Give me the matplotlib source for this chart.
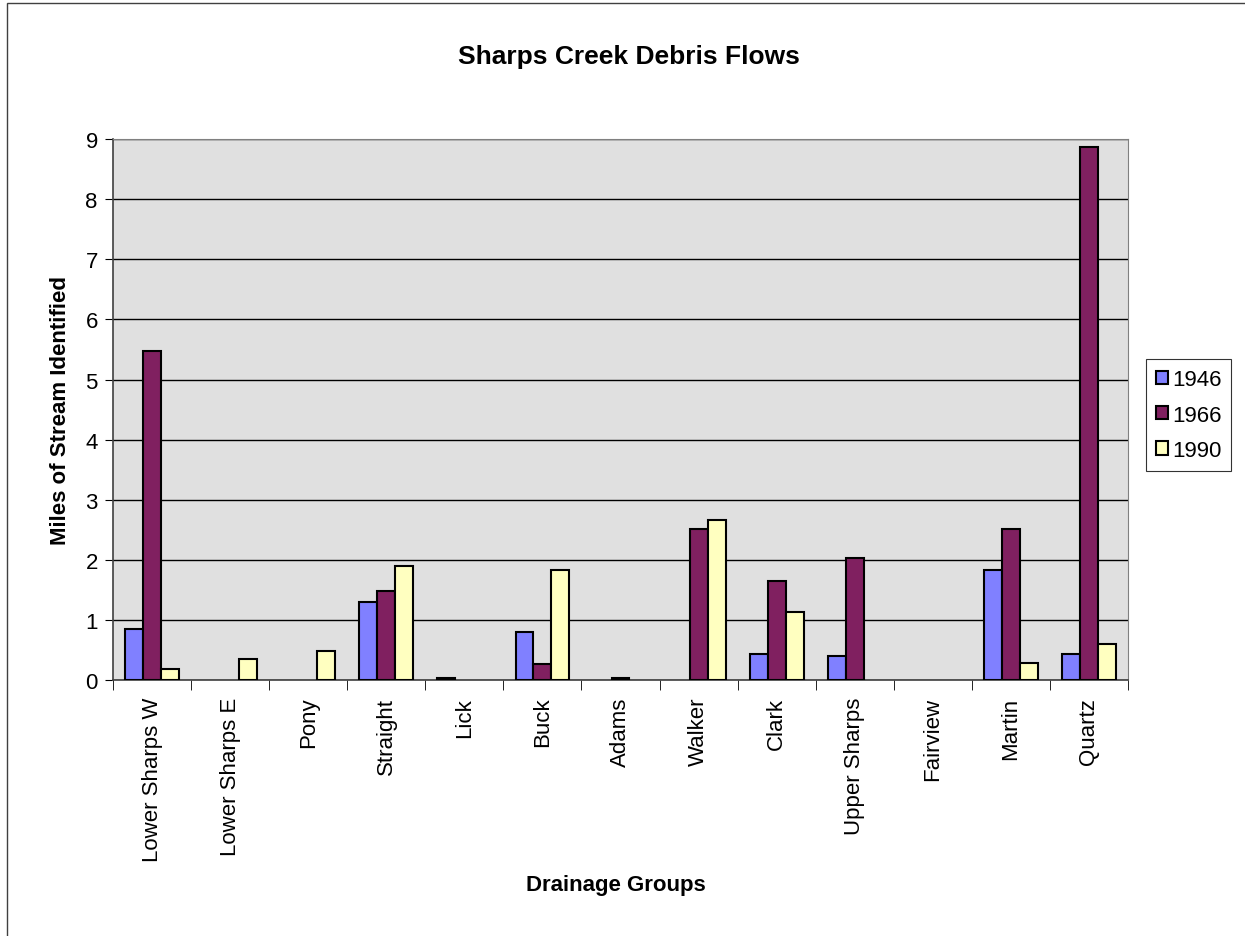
import matplotlib

matplotlib.use("Agg")
import matplotlib.pyplot as plt
import numpy as np
from matplotlib.patches import Rectangle

plt.rcParams["font.family"] = ["Liberation Sans", "DejaVu Sans"]

groups = ["Lower Sharps W", "Lower Sharps E", "Pony", "Straight", "Lick", "Buck",
          "Adams", "Walker", "Clark", "Upper Sharps", "Fairview", "Martin", "Quartz"]
v1946 = [0.85, 0, 0, 1.30, 0.03, 0.80, 0, 0, 0.44, 0.41, 0, 1.84, 0.44]
v1966 = [5.47, 0, 0, 1.48, 0, 0.27, 0.03, 2.51, 1.65, 2.04, 0, 2.51, 8.87]
v1990 = [0.18, 0.35, 0.48, 1.90, 0, 1.83, 0, 2.66, 1.14, 0, 0, 0.28, 0.61]
years = ["1946", "1966", "1990"]
colors = ["#8080FF", "#802060", "#FFFFC0"]

fig = plt.figure(figsize=(12.45, 9.37), dpi=100)
ax = fig.add_axes([0.0908, 0.273, 0.8152, 0.5776])
ax.set_facecolor("#E0E0E0")

x = np.arange(len(groups))
w = 0.23
for i, (vals, lab, c) in enumerate(zip([v1946, v1966, v1990], years, colors)):
    vals = np.array(vals, dtype=float)
    keep = vals > 0  # empty values are not drawn at all
    ax.bar(x[keep] + (i - 1) * w, vals[keep], width=w, color=c, edgecolor="black",
           linewidth=1.5, label=lab, zorder=3)

ax.set_xlim(-0.5, len(groups) - 0.5)
ax.set_ylim(0, 9)
ax.set_yticks(range(10))
ax.yaxis.grid(True, color="black", linewidth=1, zorder=1)
ax.set_axisbelow(True)

ax.set_xticks(x)
ax.set_xticklabels(groups, rotation=90, fontsize=16)
ax.tick_params(axis="x", length=0, pad=12)
ax.set_xticks(np.arange(-0.5, len(groups), 1), minor=True)
ax.tick_params(axis="x", which="minor", length=7, direction="out", color="black")
ax.tick_params(axis="y", labelsize=16, length=6, direction="out", pad=5)

for s in ["top", "right"]:
    ax.spines[s].set_color("#808080")
for s in ["left", "bottom"]:
    ax.spines[s].set_color("#404040")
    ax.spines[s].set_linewidth(1.2)

fig.suptitle("Sharps Creek Debris Flows", fontsize=19, fontweight="bold",
             x=0.505, y=1 - 57 / 937, va="center")
ax.set_xlabel("Drainage Groups", fontsize=16, fontweight="bold", va="center")
ax.xaxis.set_label_coords(0.495, (681 - 885) / 541)
ax.set_ylabel("Miles of Stream Identified", fontsize=16, fontweight="bold", va="center")
ax.yaxis.set_label_coords((60 - 113) / 1015, 0.5)

leg = ax.legend(loc="center left", bbox_to_anchor=(1.018, 0.49), fontsize=16,
                frameon=True, fancybox=False, edgecolor="black",
                handlelength=0.55, handleheight=0.55, handletextpad=0.15,
                labelspacing=0.65, borderpad=0.45, borderaxespad=0)
leg.get_frame().set_linewidth(0.8)

fig.patches.append(Rectangle((0.0056, -0.01), 1.0, 1.006, transform=fig.transFigure,
                             fill=False, edgecolor="#404040", linewidth=1))

fig.savefig("out.png", dpi=100)
